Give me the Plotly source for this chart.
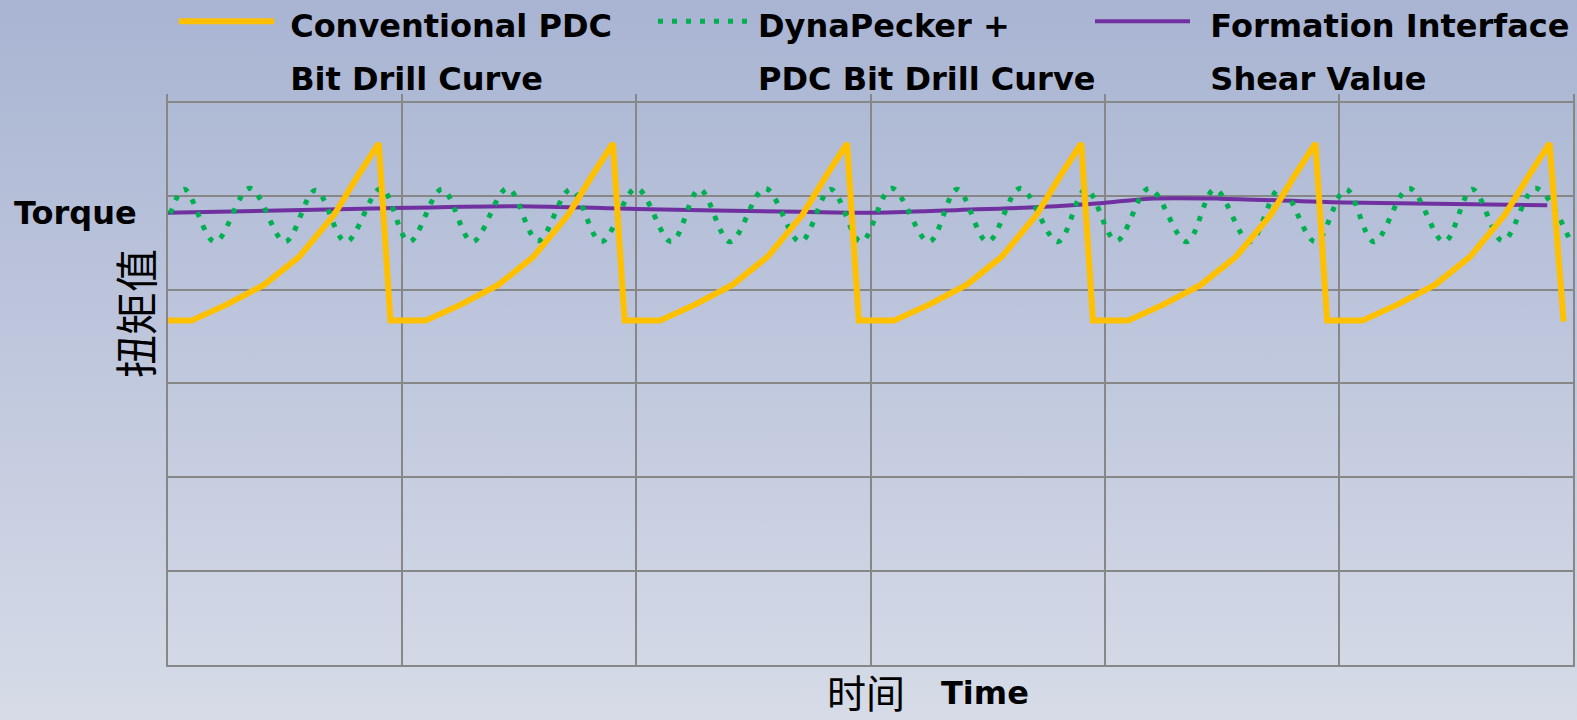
import base64
import plotly.graph_objects as go

# ---------------- data ----------------
# time axis: 6 grid intervals; torque axis: 6 grid intervals
conv_x = [0.00, 0.10, 0.25, 0.41, 0.56, 0.71, 0.81, 0.90, 0.95,
          1.10, 1.25, 1.41, 1.56, 1.71, 1.81, 1.90, 1.95,
          2.10, 2.25, 2.41, 2.56, 2.71, 2.81, 2.90, 2.95,
          3.10, 3.25, 3.41, 3.56, 3.71, 3.81, 3.90, 3.95,
          4.10, 4.25, 4.41, 4.56, 4.71, 4.81, 4.90, 4.95,
          5.10, 5.25, 5.41, 5.56, 5.71, 5.81, 5.90, 5.96]
conv_y = [3.67, 3.67, 3.84, 4.05, 4.35, 4.80, 5.21, 5.56, 3.67,
          3.67, 3.84, 4.05, 4.35, 4.80, 5.21, 5.56, 3.67,
          3.67, 3.84, 4.05, 4.35, 4.80, 5.21, 5.56, 3.67,
          3.67, 3.84, 4.05, 4.35, 4.80, 5.21, 5.56, 3.67,
          3.67, 3.84, 4.05, 4.35, 4.80, 5.21, 5.56, 3.67,
          3.67, 3.84, 4.05, 4.35, 4.80, 5.21, 5.56, 3.66]

dyna_x = [0.01, 0.07, 0.20, 0.35, 0.50, 0.63, 0.76, 0.91, 1.03, 1.17, 1.30,
          1.45, 1.58, 1.72, 1.85, 2.00, 2.15, 2.27, 2.40, 2.55, 2.70, 2.83,
          2.96, 3.09, 3.25, 3.37, 3.50, 3.64, 3.80, 3.92, 4.05, 4.19, 4.35,
          4.47, 4.62, 4.75, 4.90, 5.03, 5.15, 5.30, 5.45, 5.57, 5.70, 5.84, 5.99]
dyna_y = [4.81, 5.07, 4.51, 5.08, 4.51, 5.06, 4.51, 5.08, 4.51, 5.07, 4.51,
          5.08, 4.52, 5.07, 4.51, 5.08, 4.51, 5.07, 4.51, 5.08, 4.51, 5.07,
          4.51, 5.08, 4.51, 5.07, 4.51, 5.08, 4.51, 5.07, 4.52, 5.08, 4.51,
          5.07, 4.51, 5.08, 4.51, 5.07, 4.51, 5.08, 4.51, 5.07, 4.52, 5.08, 4.51]

shear_x = [0.00, 0.78, 1.50, 2.00, 2.70, 3.00, 3.38, 3.72, 3.98, 4.19, 4.49, 5.02, 5.89]
shear_y = [4.82, 4.86, 4.89, 4.86, 4.83, 4.82, 4.85, 4.88, 4.92, 4.97, 4.97, 4.93, 4.90]

names = ["Conventional PDC<br>Bit Drill Curve",
         "DynaPecker +<br>PDC Bit Drill Curve",
         "Formation Interface<br>Shear Value"]
y_title_en = "Torque"
y_title_zh = "扭矩值"
x_title_zh = "时间"
x_title_en = "Time"

# ---------------- styling ----------------
W, H = 1577, 720
ML, MR, MT, MB = 168, 4, 94, 55
PW, PH = W - ML - MR, H - MT - MB
GRID = "#878787"


def px_x(p):
    return (p - ML) / PW


def px_y(p):
    return (H - MB - p) / PH


def label(txt, pad):
    # pad: width (in font px) of a leading non-breaking space, to set the text gap
    lead = '<span style="font-size:%dpx">\u00a0</span>' % pad if pad else ""
    parts = txt.split("<br>")
    return "<br>".join(lead + '<span style="font-size:32px">%s</span>' % s for s in parts)


fig = go.Figure()
fig.add_trace(go.Scatter(x=shear_x, y=shear_y, mode="lines", name=label(names[2], 44),
                         line=dict(color="#7030A0", width=4, shape="spline", smoothing=0.8),
                         legend="legend3"))
fig.add_trace(go.Scatter(x=dyna_x, y=dyna_y, mode="lines", name=label(names[1], 0),
                         line=dict(color="#00B050", width=5, dash="5px,9px", shape="spline", smoothing=1.0),
                         legend="legend2"))
fig.add_trace(go.Scatter(x=conv_x, y=conv_y, mode="lines", name=label(names[0], 32),
                         line=dict(color="#FFC000", width=6),
                         legend="legend"))

legfont = dict(family="DejaVu Sans", size=41, color="black", weight="bold")
common = dict(font=legfont, bgcolor="rgba(0,0,0,0)", orientation="v", valign="top",
              yanchor="top", xanchor="left", itemwidth=95)
ytop = px_y(-12)
fig.update_layout(
    legend=dict(x=px_x(174), y=ytop, **common),
    legend2=dict(x=px_x(653), y=ytop, **common),
    legend3=dict(x=px_x(1090), y=ytop, **common),
)

svg = ('<svg xmlns="http://www.w3.org/2000/svg" width="1577" height="720" viewBox="0 0 1577 720" '
       'preserveAspectRatio="none"><defs><linearGradient id="g" x1="0" y1="0" x2="0" y2="1">'
       '<stop offset="0" stop-color="#a8b4d2"/><stop offset="1" stop-color="#d6dbe7"/>'
       '</linearGradient></defs><rect width="1577" height="720" fill="url(#g)"/></svg>')
src = "data:image/svg+xml;base64," + base64.b64encode(svg.encode()).decode()

fig.update_layout(
    width=W, height=H,
    margin=dict(l=ML, r=MR, t=MT, b=MB, autoexpand=False),
    paper_bgcolor="#bec7dc",
    plot_bgcolor="rgba(0,0,0,0)",
    showlegend=True,
    images=[dict(source=src, xref="paper", yref="paper", x=px_x(0), y=px_y(0),
                 sizex=W / PW, sizey=H / PH, xanchor="left", yanchor="top",
                 sizing="stretch", layer="below")],
    xaxis=dict(range=[0, 6], tick0=0, dtick=1, showgrid=True, gridcolor=GRID, gridwidth=2,
               showticklabels=False, ticks="", showline=True, linecolor=GRID, linewidth=2,
               zeroline=False, fixedrange=True),
    yaxis=dict(range=[0, 6.085], tick0=0, dtick=1, showgrid=True, gridcolor=GRID, gridwidth=2,
               showticklabels=False, ticks="", showline=True, mirror=True, linecolor=GRID,
               linewidth=2, zeroline=False, fixedrange=True),
    annotations=[
        dict(text="<b>%s</b>" % y_title_en, xref="paper", yref="paper", x=px_x(12), y=px_y(213),
             xanchor="left", yanchor="middle", showarrow=False,
             font=dict(family="DejaVu Sans", size=32, color="black")),
        dict(text=y_title_zh, xref="paper", yref="paper", x=px_x(134), y=px_y(314),
             xanchor="center", yanchor="middle", showarrow=False, textangle=-90,
             font=dict(family="Noto Sans CJK SC", size=43, color="black")),
        dict(text=x_title_zh, xref="paper", yref="paper", x=px_x(866), y=px_y(691),
             xanchor="center", yanchor="middle", showarrow=False,
             font=dict(family="Noto Sans CJK SC", size=39, color="black")),
        dict(text="<b>%s</b>" % x_title_en, xref="paper", yref="paper", x=px_x(985), y=px_y(693),
             xanchor="center", yanchor="middle", showarrow=False,
             font=dict(family="DejaVu Sans", size=32, color="black")),
    ],
)

fig.write_html("out.html", config={"displayModeBar": False},
               post_script="document.body.style.margin='0px';document.body.style.padding='0px';"
                           "document.body.style.overflow='hidden';")
